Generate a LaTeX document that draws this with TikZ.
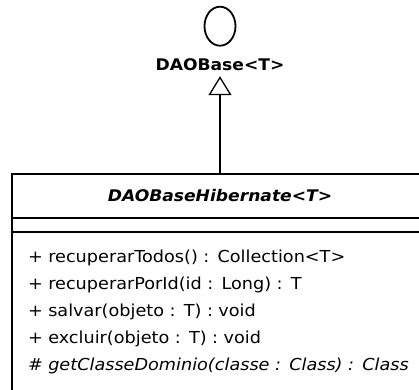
\documentclass[tikz,border=0pt]{standalone}
\usepackage{fontspec}
\setsansfont{DejaVu Sans}[FakeStretch=1.07]
\renewcommand{\familydefault}{\sfdefault}
\usetikzlibrary{positioning,shapes.geometric,arrows.meta}

\begin{document}
\begin{tikzpicture}[x=1pt,y=1pt,
					iface/.style={ellipse, draw=black, line width=1.8pt, minimum width=31pt, minimum height=39pt, inner sep=0pt},
					ifacename/.style={font=\fontsize{16}{19}\selectfont\bfseries, text height=11.7pt, text depth=0pt, inner xsep=0pt, inner ysep=6pt},
					classbox/.style={rectangle, draw=black, line width=2.7pt, minimum width=416pt, minimum height=230pt, outer sep=0pt},
					compart/.style={rectangle, minimum width=416pt, inner sep=0pt, outer sep=0pt},
					sep/.style={line width=1.3pt},
					op/.style={font=\fontsize{16.5}{20}\selectfont, text height=12pt, text depth=4pt, inner xsep=0pt, inner ysep=5.45pt, outer sep=0pt, text width=395pt, align=left},
					realize/.style={line width=1.3pt, -{Triangle[open, length=19pt, width=23pt]}}
				]
				\useasboundingbox (0,0) rectangle (419,-389);
				\clip (0,0) rectangle (419,-389);
				\node[ifacename] (daobasename) at (220,-64.15) {DAOBase<T>};
				\node[iface] (daobase) [above=5.5pt of daobasename] {};
				\node[classbox, anchor=north] (hib) at (220,-174) {};
				\node[compart, minimum height=44pt, font=\fontsize{16}{19}\selectfont\bfseries\itshape] (hibname) [below=0pt of hib.north] {DAOBaseHibernate<T>};
				\node[compart, minimum height=14pt] (hibattrs) [below=0pt of hibname] {};
				\draw[sep] (hibname.south west) -- (hibname.south east);
				\draw[sep] (hibattrs.south west) -- (hibattrs.south east);
				\node[op, anchor=north west] (op1) at ([xshift=16pt, yshift=-13pt]hibattrs.south west) {+ recuperarTodos() : Collection<T>};
				\node[op] (op2) [below=0pt of op1] {+ recuperarPorId(id : Long) : T};
				\node[op] (op3) [below=0pt of op2] {+ salvar(objeto : T) : void};
				\node[op] (op4) [below=0pt of op3] {+ excluir(objeto : T) : void};
				\node[op] (op5) [below=0pt of op4] {\textit{\# getClasseDominio(classe : Class) : Class}};
				\draw[realize] (hib.north) -- (daobasename.south);
				\end{tikzpicture}
\end{document}
